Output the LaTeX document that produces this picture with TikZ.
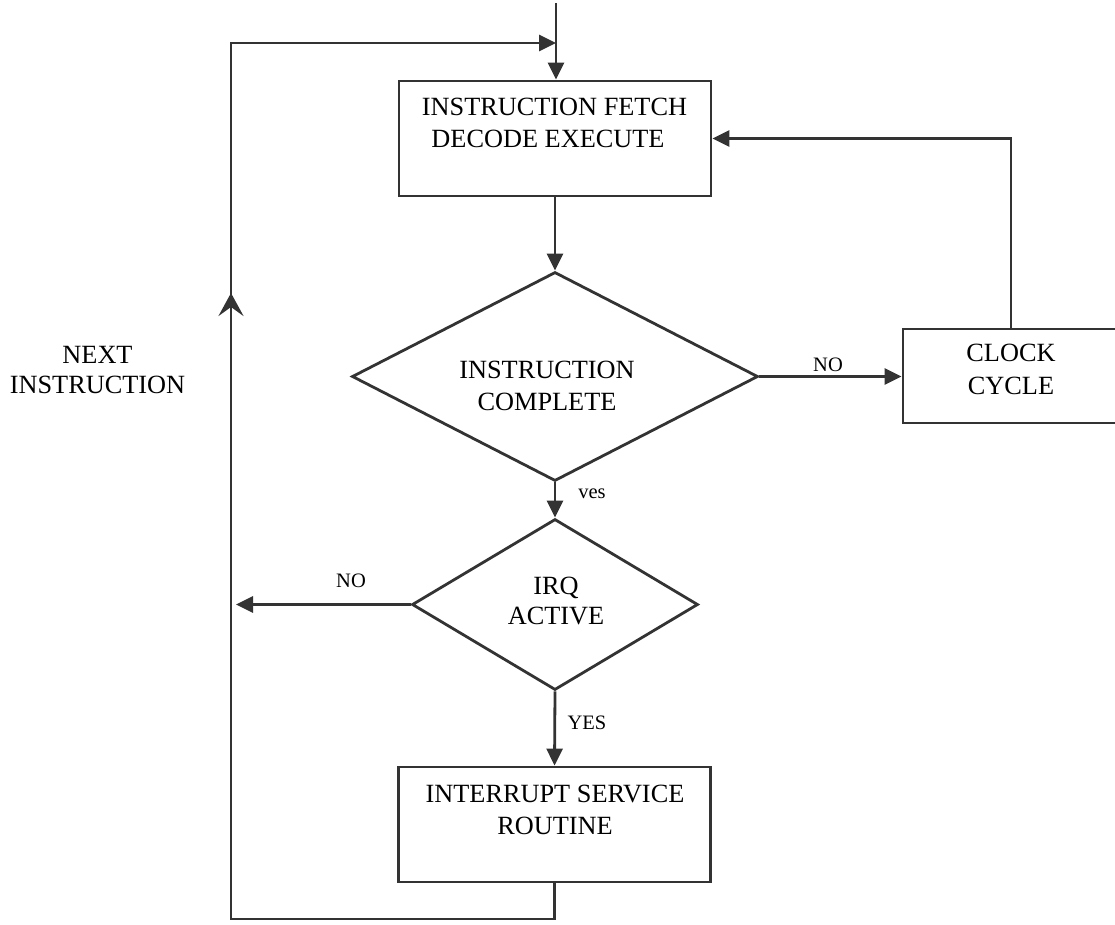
\documentclass[tikz,border=0pt]{standalone}
\usepackage{fontspec}
\setmainfont{Liberation Serif}
\usetikzlibrary{arrows.meta,shapes.geometric}
\definecolor{ink}{HTML}{333333}
\begin{document}
\begin{tikzpicture}[x=1pt,y=-1pt,
  line width=2.8pt, draw=ink,
  box/.style={draw=ink, rectangle, inner sep=0pt, minimum width=312pt, minimum height=115pt},
  decision/.style={draw=ink, diamond, inner sep=0pt},
  txt/.style={anchor=base, inner sep=0pt, font=\fontsize{26.3pt}{31pt}\selectfont},
  lbl/.style={anchor=base, inner sep=0pt, font=\fontsize{20.5pt}{24pt}\selectfont},
  flow/.style={draw=ink, -{Triangle[length=17pt,width=16pt]}},
  midtip/.style={draw=ink, -{Stealth[length=23pt,width=25pt,inset=9pt]}}]
\useasboundingbox (0,0) rectangle (1115,924);
\clip (0,0) rectangle (1115,924);

% blocks
\node[box] (fetch) at (555,138.5) {};
\node[box] (isr) at (554.5,824.5) {};
\node[box, minimum width=216pt, minimum height=94pt] (clock) at (1011,376) {};
\node[decision, minimum width=406pt, minimum height=209pt] (d1) at (555,376.5) {};
\node[decision, minimum width=286pt, minimum height=171pt] (d2) at (555,604.5) {};

% block texts
\node[txt] (t1a) at (554.5,115) {INSTRUCTION FETCH};
\node[txt] (t1b) at (548,147) {DECODE EXECUTE};
\node[txt] (t2a) at (547,378) {INSTRUCTION};
\node[txt] (t2b) at (547,410) {COMPLETE};
\node[txt] (t3a) at (556,594) {IRQ};
\node[txt] (t3b) at (556,624) {ACTIVE};
\node[txt] (t4a) at (555,802) {INTERRUPT SERVICE};
\node[txt] (t4b) at (555,834) {ROUTINE};
\node[txt] (t5a) at (1011,361) {CLOCK};
\node[txt] (t5b) at (1011,394) {CYCLE};
\node[txt] (t6a) at (97.5,363) {NEXT};
\node[txt] (t6b) at (97.5,393) {INSTRUCTION};

% branch labels
\node[lbl] (lno1) at (828,371) {NO};
\node[lbl] (lno2) at (351,587) {NO};
\node[lbl] (lyes1) at (592,498) {ves};
\node[lbl] (lyes2) at (587,729) {YES};

% free ends of the loop
\coordinate (entry) at (556,3);
\coordinate (join) at (556,43);
\coordinate (lt) at (231,43);
\coordinate (lb) at (231,919);
\coordinate (upmark) at (231,293);
\coordinate (nxt) at (236,604.5);

% connectors
\draw[flow] (entry) -- (entry |- fetch.north);
\draw[flow] (fetch.south) -- (d1.north);
\draw[flow] (d1.east) -- (clock.west |- d1.east);
\draw[flow] (clock.north) |- (fetch.east);
\draw[flow] (d1.south) -- (d2.north);
\draw[flow] (d2.west) -- (nxt);
\draw[flow] (d2.south) -- (isr.north);
\draw[flow] (isr.south) |- (lb) -- (lt) -- (join);
\draw[midtip] (lb) -- (upmark);
\end{tikzpicture}
\end{document}
